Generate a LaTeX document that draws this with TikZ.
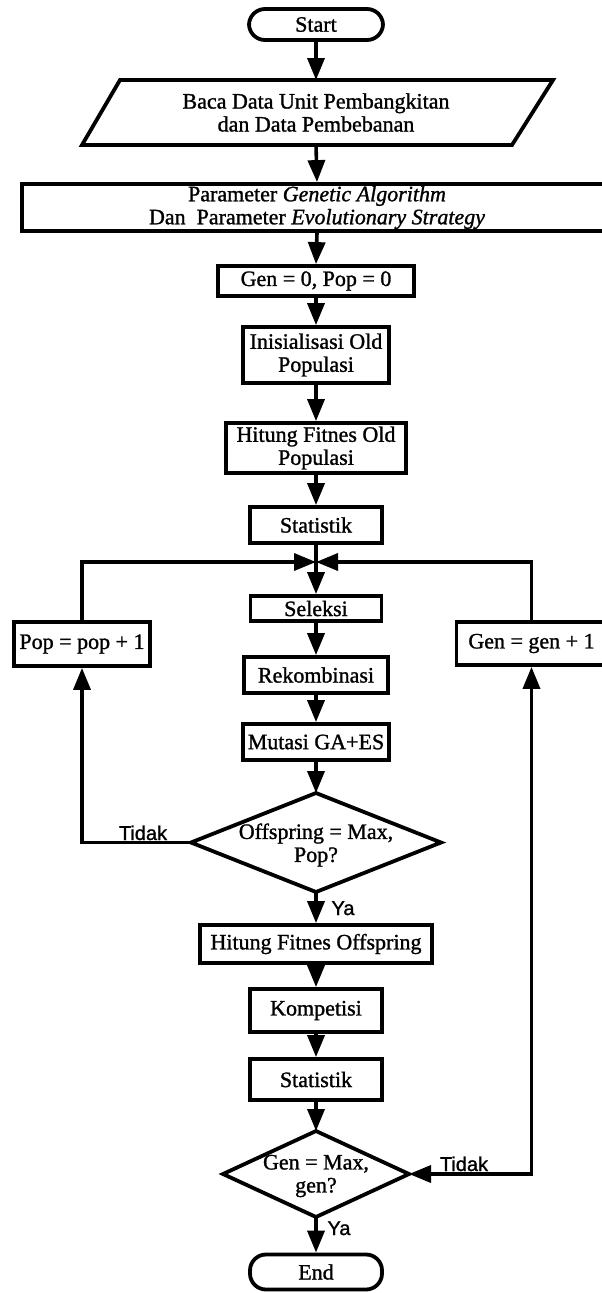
\documentclass[tikz,border=0pt]{standalone}
\usepackage{fontspec}
\setmainfont{Liberation Serif}[
  BoldFont=Liberation Serif, BoldFeatures={FakeBold=1.2},
  BoldItalicFont=Liberation Serif Italic, BoldItalicFeatures={FakeBold=1.2}]
\newfontfamily\labelfont{Liberation Sans}[
  BoldFont=Liberation Sans, BoldFeatures={FakeBold=1.2}]
\usetikzlibrary{arrows.meta,calc}
\begin{document}
\begin{tikzpicture}[x=1pt,y=-1pt,
  txt/.style={font=\fontsize{22}{23}\selectfont\bfseries, align=center, inner sep=0pt},
  box/.style={txt, draw, line width=3.8pt, rectangle},
  term/.style={box, rounded corners=16pt},
  ghost/.style={txt, outer sep=0pt},
  outline/.style={draw, line width=3.8pt, line join=miter},
  arr/.style={line width=3.6pt, -{Triangle[length=22pt,width=17pt]}},
  arrboth/.style={line width=3.6pt, {Triangle[length=22pt,width=17pt]}-{Triangle[length=22pt,width=17pt]}},
  lbl/.style={font=\labelfont\fontsize{20}{22}\selectfont\bfseries, inner sep=0pt, anchor=base}]

% canvas
\useasboundingbox (0,0) rectangle (602,1293);
\clip (0,0) rectangle (602,1293);
\fill[white] (0,0) rectangle (602,1293);

% main column
\node[term, minimum width=134, minimum height=31] (start) at (316,24.5) {Start};

\draw[outline] (120,80) -- (553,80) -- (512,145) -- (82,145) -- cycle;
\node[ghost, minimum width=10, minimum height=65] (read) at (316,112.5)
  {Baca Data Unit Pembangkitan\\dan Data Pembebanan};

\node[box, minimum width=590, minimum height=47] (param) at (317,207.5)
  {Parameter \textit{Genetic Algorithm}\\Dan\ \ Parameter \textit{Evolutionary Strategy}};

\node[box, minimum width=196, minimum height=30] (gen0) at (316,281) {Gen = 0, Pop = 0};
\node[box, minimum width=146, minimum height=56] (init) at (316,355) {Inisialisasi Old\\Populasi};
\node[box, minimum width=180, minimum height=50] (fitold) at (316,448) {Hitung Fitnes Old\\Populasi};
\node[box, minimum width=132, minimum height=36] (stat1) at (316,525) {Statistik};
\coordinate (j) at (316,562);
\node[box, minimum width=131, minimum height=25] (sel) at (316,608.5) {Seleksi};
\node[box, minimum width=144, minimum height=36] (rek) at (316,675) {Rekombinasi};
\node[box, minimum width=146, minimum height=36] (mut) at (316,742) {Mutasi GA+ES};

\node[ghost, minimum width=250, minimum height=99] (dec1) at (316,842.5) {};
\draw[outline] (dec1.north) -- (dec1.east) -- (dec1.south) -- (dec1.west) -- cycle;
\node[txt] (dec1t) at (316,845) {Offspring = Max,\\Pop?};

\node[box, minimum width=232, minimum height=38] (fitoff) at (316,944) {Hitung Fitnes Offspring};
\node[box, minimum width=132, minimum height=43] (komp) at (316,1010.5) {Kompetisi};
\node[box, minimum width=132, minimum height=41] (stat2) at (316,1079.5) {Statistik};

\node[ghost, minimum width=186, minimum height=86] (dec2) at (316,1174) {};
\draw[outline] (dec2.north) -- (dec2.east) -- (dec2.south) -- (dec2.west) -- cycle;
\node[txt] (dec2t) at (316,1176) {Gen = Max,\\gen?};

\node[term, minimum width=132, minimum height=35] (end) at (316,1272) {End};

% side boxes of the two loops
\node[box, minimum width=136, minimum height=44] (pop) at (82,644) {Pop = pop + 1};
\node[box, minimum width=150, minimum height=43] (geninc) at (531.5,643.5) {Gen = gen + 1};

% main flow
\draw[arr] (start.south) -- (read.north);
\draw[arr] (read.south) -- (param.north);
\draw[arr] (param.south) -- (gen0.north);
\draw[arr] (gen0.south) -- (init.north);
\draw[arr] (init.south) -- (fitold.north);
\draw[arr] (fitold.south) -- (stat1.north);
\draw[arr] (stat1.south) -- (sel.north);
\draw[arr] (sel.south) -- (rek.north);
\draw[arr] (rek.south) -- (mut.north);
\draw[arr] (mut.south) -- (dec1.north);
\draw[arr] (dec1.south) -- (fitoff.north);
\draw[arr] (fitoff.south) -- (komp.north);
\draw[arr] (komp.south) -- (stat2.north);
\draw[arr] (stat2.south) -- (dec2.north);
\draw[arr] (dec2.south) -- (end.north);

% loops
\draw[arr] (dec1.west) -| (pop.south);
\draw[arr] (pop.north) |- (j);
\draw[arrboth] (dec2.east) -| (geninc.south);
\draw[arr] (geninc.north) |- (j);

% branch labels
\node[lbl] (t1) at (143,840) {Tidak};
\node[lbl] (y1) at (343,915) {Ya};
\node[lbl] (t2) at (464,1171) {Tidak};
\node[lbl] (y2) at (339,1235) {Ya};
\end{tikzpicture}
\end{document}
